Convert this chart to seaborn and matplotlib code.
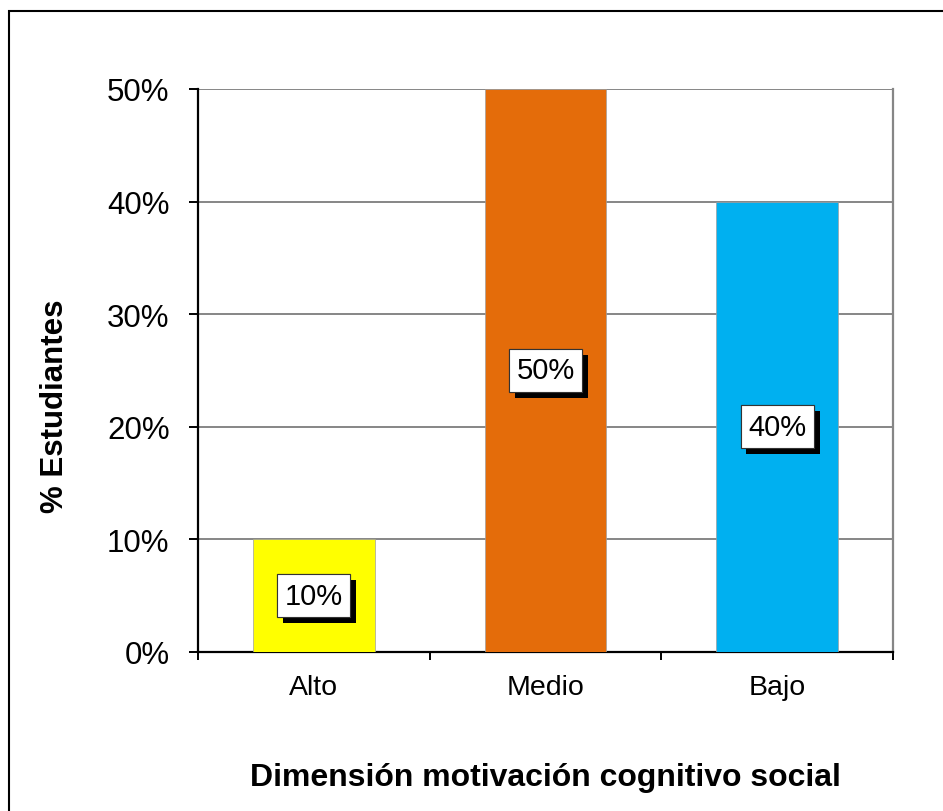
import matplotlib
matplotlib.use("Agg")
import matplotlib.pyplot as plt
import matplotlib.patheffects as pe
from matplotlib.ticker import PercentFormatter, FixedLocator
from matplotlib.patches import Rectangle
import seaborn as sns
import pandas as pd

categories = ["Alto", "Medio", "Bajo"]
values = [0.10, 0.50, 0.40]
labels = ["10%", "50%", "40%"]
colors = ["#FFFF00", "#E46C0A", "#00B0F0"]
y_ticks = [0.0, 0.1, 0.2, 0.3, 0.4, 0.5]
x_title = "Dimensión motivación cognitivo social"
y_title = "% Estudiantes"

sns.set_theme(style="white")
plt.rcParams["font.family"] = ["Liberation Sans", "DejaVu Sans"]

df = pd.DataFrame({"cat": categories, "val": values})

fig = plt.figure(figsize=(9.43, 8.12), dpi=100)
ax = fig.add_axes([198/943, 1-653/812, (893-198)/943, (653-90)/812])

sns.barplot(data=df, x="cat", y="val", hue="cat", palette=colors,
            order=categories, hue_order=categories, width=0.525,
            dodge=False, legend=False, ax=ax, edgecolor="#a0a0a0",
            linewidth=0.5, saturation=1, zorder=3)

ax.set_ylim(0, 0.5)
ax.set_xlim(-0.5, 2.5)
ax.set_yticks(y_ticks)
ax.yaxis.set_major_formatter(PercentFormatter(1.0, decimals=0))
ax.grid(axis="y", color="#868686", linewidth=1.4, zorder=0)
ax.set_axisbelow(True)

for s in ["left", "bottom"]:
    ax.spines[s].set_color("black")
    ax.spines[s].set_linewidth(1.6)
ax.spines["right"].set_color("#868686")
ax.spines["right"].set_linewidth(1.6)
ax.spines["top"].set_visible(False)

ax.tick_params(axis="y", which="major", length=6.5, width=1.4, color="black",
               labelsize=22.5, pad=14, left=True, direction="out")
ax.tick_params(axis="x", which="major", length=0, labelsize=20.5, pad=16)
ax.xaxis.set_minor_locator(FixedLocator([-0.5, 0.5, 1.5, 2.5]))
ax.tick_params(axis="x", which="minor", length=6, width=1.4, color="black",
               bottom=True, direction="out")
for lbl in ax.get_yticklabels() + ax.get_xticklabels():
    lbl.set_color("black")

ax.set_xlabel(x_title, fontsize=23, fontweight="bold", color="black", va="center")
ax.xaxis.set_label_coords(0.5, -(778-653)/563)
ax.set_ylabel(y_title, fontsize=22.5, fontweight="bold", color="black", va="center", ha="center")
ax.yaxis.set_label_coords(-(198-55)/695, (653-406)/563)

for i, (v, t) in enumerate(zip(values, labels)):
    txt = ax.text(i, v/2, t, ha="center", va="center", fontsize=21, color="black", zorder=5,
                  bbox=dict(boxstyle="square,pad=0.26", facecolor="white",
                            edgecolor="#333333", linewidth=0.8))
    txt.get_bbox_patch().set_path_effects([
        pe.withSimplePatchShadow(offset=(4.3, -4.3), shadow_rgbFace="black", alpha=1.0),
        pe.Normal()])

border = Rectangle((9/943, -0.05), 1.1, 1.05 - 12/812, transform=fig.transFigure,
                   fill=False, edgecolor="black", linewidth=1.5, clip_on=False)
fig.patches.append(border)

fig.savefig("out.png", dpi=100, facecolor="white")
